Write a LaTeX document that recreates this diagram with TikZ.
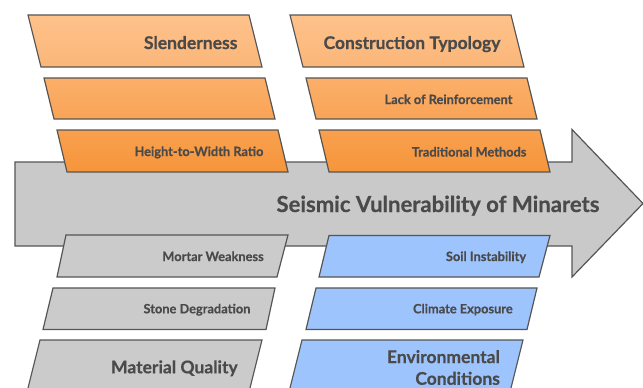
\documentclass[tikz,border=0pt]{standalone}
\usepackage{fontspec}
\setmainfont{Lato}[BoldFeatures={FakeBold=0.5}]
\usepackage{tikz}

\definecolor{edge}{HTML}{555555}
\definecolor{ink}{HTML}{4A4A4A}
\definecolor{shaft}{HTML}{C9C9C9}
\definecolor{stone}{HTML}{CBCBCB}
\definecolor{sky}{HTML}{9EC4FD}
\definecolor{peachA}{HTML}{FEC28B}
\definecolor{peachB}{HTML}{FBB679}
\definecolor{peachC}{HTML}{FBAF69}
\definecolor{peachD}{HTML}{F9A457}
\definecolor{peachE}{HTML}{F9A04E}
\definecolor{peachF}{HTML}{F6953B}

\begin{document}
\begin{tikzpicture}[x=1pt, y=-1pt, line width=1.2pt,
    box/.style = {draw=edge},
    big/.style = {font=\fontsize{17.5}{21.7}\selectfont\bfseries, text=ink, inner sep=0pt, anchor=base east},
    small/.style = {font=\fontsize{12.8}{15}\selectfont\bfseries, text=ink, inner sep=0pt, anchor=base east}]
    \useasboundingbox (0,0) rectangle (643,388);

    % main arrow
    \draw[box, fill=shaft] (15,162)--(572,162)--(572,129.5)--(643,203.5)--(572,277)--(572,246)--(15,246)--cycle;
    \node[font=\fontsize{22.1}{26}\selectfont\bfseries, text=ink, inner sep=0pt, anchor=base east] (title) at (600,212) {Seismic Vulnerability of Minarets};

    % upper left column
    \draw[box, top color=peachA, bottom color=peachB] (28,15)--(249,15)--(262,67)--(41,67)--cycle;
    \draw[box, top color=peachC, bottom color=peachD] (44,78)--(265,78)--(275,119)--(54,119)--cycle;
    \draw[box, top color=peachE, bottom color=peachF] (57,130)--(278,130)--(288,172)--(67,172)--cycle;
    \node[big] (slender) at (238,49) {Slenderness};
    \node[small] (ratio) at (264,156) {Height-to-Width Ratio};

    % upper right column
    \draw[box, top color=peachA, bottom color=peachB] (290,15)--(511,15)--(524,67)--(303,67)--cycle;
    \draw[box, top color=peachC, bottom color=peachD] (306,78)--(527,78)--(537,119)--(316,119)--cycle;
    \draw[box, top color=peachE, bottom color=peachF] (319,130)--(540,130)--(550,172)--(329,172)--cycle;
    \node[big] (typology) at (501,49) {Construction Typology};
    \node[small] (reinf) at (513,104) {Lack of Reinforcement};
    \node[small] (methods) at (527,156.5) {Traditional Methods};

    % lower left column
    \draw[box, fill=stone] (66,235)--(288,235)--(277,277)--(57,277)--cycle;
    \draw[box, fill=stone] (53,288)--(275,288)--(266,329.5)--(43,329.5)--cycle;
    \draw[box, fill=stone] (40,340)--(262,340)--(249,392)--(27,392)--cycle;
    \node[small] (mortar) at (264.3,261) {Mortar Weakness};
    \node[small] (degrad) at (251,313.3) {Stone Degradation};
    \node[big] (material) at (238.3,373.3) {Material Quality};

    % lower right column
    \draw[box, fill=sky] (329,235.5)--(550,235.5)--(539,277)--(319,277)--cycle;
    \draw[box, fill=sky] (316,288)--(537,288)--(527,329.5)--(306,329.5)--cycle;
    \draw[box, fill=sky] (302,340)--(523,340)--(510,392)--(289,392)--cycle;
    \node[small] (soil) at (526.7,261) {Soil Instability};
    \node[small] (climate) at (513.3,313.3) {Climate Exposure};
    \node[big, align=right, anchor=east] (environ) at (500.5,367.5) {Environmental\\Conditions};
\end{tikzpicture}
\end{document}
